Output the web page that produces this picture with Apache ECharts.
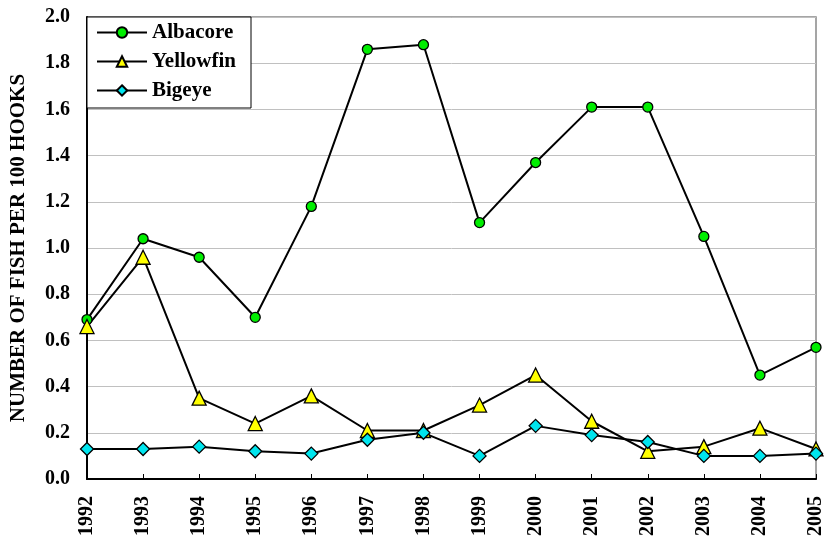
<!DOCTYPE html>
<html>
<head>
<meta charset="utf-8">
<script src="https://cdn.jsdelivr.net/npm/echarts@6/dist/echarts.min.js"></script>
<style>
  html, body { margin: 0; padding: 0; background: #fff; }
  #chart { width: 826px; height: 546px; }
</style>
</head>
<body>
<div id="chart"></div>
<script>
var years = ['1992', '1993', '1994', '1995', '1996', '1997', '1998', '1999', '2000', '2001', '2002', '2003', '2004', '2005']
var albacore = [0.69, 1.04, 0.96, 0.70, 1.18, 1.86, 1.88, 1.11, 1.37, 1.61, 1.61, 1.05, 0.45, 0.57]
var yellowfin = [0.66, 0.96, 0.35, 0.24, 0.36, 0.21, 0.21, 0.32, 0.45, 0.25, 0.12, 0.14, 0.22, 0.13]
var bigeye = [0.13, 0.13, 0.14, 0.12, 0.11, 0.17, 0.20, 0.10, 0.23, 0.19, 0.16, 0.10, 0.10, 0.11]

var font = 'Liberation Serif'

function lineSeries(name, data, symbol, color, size) {
  return {
    name: name,
    type: 'line',
    data: data,
    symbol: symbol,
    symbolSize: size,
    showAllSymbol: true,
    lineStyle: { color: '#000', width: 2 },
    itemStyle: { color: color, borderColor: '#000', borderWidth: 1.3 },
    emphasis: { disabled: true },
    animation: false
  }
}

var chart = echarts.init(document.getElementById('chart'))
chart.setOption({
  backgroundColor: '#fff',
  grid: { left: 87, right: 6, top: 17, bottom: 67, show: true, borderColor: '#888', borderWidth: 1.5 },
  legend: {
    left: 87,
    top: 17,
    orient: 'vertical',
    padding: [5, 15, 7, 9],
    itemGap: 8,
    itemWidth: 50,
    itemHeight: 13,
    backgroundColor: '#fff',
    borderColor: '#000',
    borderWidth: 1,
    textStyle: { fontFamily: font, fontWeight: 'bold', fontSize: 21, color: '#000' },
    data: ['Albacore', 'Yellowfin', 'Bigeye']
  },
  xAxis: {
    type: 'category',
    data: years,
    boundaryGap: false,
    axisLine: { lineStyle: { color: '#000', width: 2 } },
    axisTick: { inside: true, length: 5, lineStyle: { color: '#000' } },
    axisLabel: { rotate: 90, fontFamily: font, fontWeight: 'bold', fontSize: 20, color: '#000', margin: 17 }
  },
  yAxis: {
    type: 'value',
    min: 0,
    max: 2,
    interval: 0.2,
    name: 'NUMBER OF FISH PER 100 HOOKS',
    nameLocation: 'middle',
    nameGap: 58,
    nameTextStyle: { fontFamily: font, fontWeight: 'bold', fontSize: 21, color: '#000' },
    axisLine: { show: true, lineStyle: { color: '#000', width: 2 } },
    axisTick: { show: false },
    splitLine: { lineStyle: { color: '#c0c0c0', width: 1 } },
    axisLabel: {
      fontFamily: font, fontWeight: 'bold', fontSize: 20, color: '#000', margin: 17,
      formatter: function (v) { return v.toFixed(1) }
    }
  },
  series: [
    lineSeries('Albacore', albacore, 'circle', '#00ee00', 10),
    lineSeries('Yellowfin', yellowfin, 'triangle', '#ffff00', 14),
    lineSeries('Bigeye', bigeye, 'diamond', '#00e5ee', 13)
  ]
})
</script>
</body>
</html>
